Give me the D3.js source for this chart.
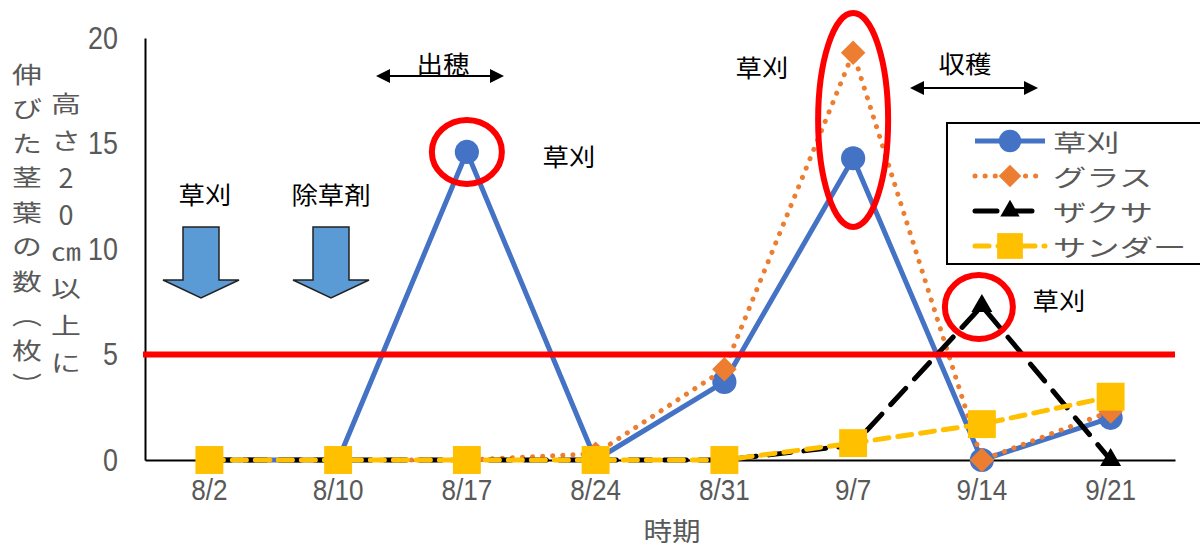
<!DOCTYPE html>
<html lang="ja">
<head>
<meta charset="utf-8">
<title>草刈と伸びた茎葉の数</title>
<script src="https://cdn.jsdelivr.net/npm/d3@7"></script>
<style>
body { margin: 0; background: #fff; }
text { font-family: "Noto Sans CJK JP", "Noto Sans", sans-serif; }
.tick text { font-family: "Liberation Sans", Arial, sans-serif; fill: #595959; }
</style>
</head>
<body>
<script>
// data
var categories = ["8/2", "8/10", "8/17", "8/24", "8/31", "9/7", "9/14", "9/21"];
var kusakari = [0, 0, 14.6, 0, 3.7, 14.3, 0, 2.0];
var grass    = [0, 0, 0, 0.3, 4.3, 19.3, 0, 2.3];
var zakusa   = [0, 0, 0, 0, 0, 0.7, 7.3, 0];
var sander   = [0, 0, 0, 0, 0, 0.8, 1.7, 3.0];
var seriesNames = ["草刈", "グラス", "ザクサ", "サンダー"];
var yTicks = [0, 5, 10, 15, 20];
var limitValue = 5;
var yTitle1 = ["伸", "び", "た", "茎", "葉", "の", "数", "︵", "枚", "︶"];
var yTitle2 = ["高", "さ", "2", "0", "㎝", "以", "上", "に"];

var w = 1200, h = 549;
var svg = d3.select("body").append("svg")
  .attr("width", w).attr("height", h);

var x = d3.scalePoint().domain(categories).range([145, 1175]).padding(0.5);
var y = d3.scaleLinear().domain([0, 20]).range([460, 38]);

// stretched text helper (the source chart text is a bit wide)
function stext(g, tx, ty, str, size, sx, fill, anchor) {
  return g.append("text")
    .attr("transform", "translate(" + tx + "," + ty + ") scale(" + sx + ",1)")
    .attr("text-anchor", anchor || "middle")
    .attr("dominant-baseline", "central")
    .style("font-size", size + "px")
    .style("fill", fill)
    .text(str);
}

// axes
var yAxis = svg.append("g").attr("transform", "translate(145,0)")
  .call(d3.axisLeft(y).tickValues(yTicks).tickSize(0));
yAxis.select(".domain").attr("stroke", "#000").attr("stroke-width", 2);
yAxis.selectAll(".tick text")
  .attr("x", -27 / 0.84)
  .attr("transform", "scale(0.84,1)")
  .style("font-size", "32px");

var xAxis = svg.append("g").attr("transform", "translate(0,460)")
  .call(d3.axisBottom(x).tickSize(0).tickPadding(19));
xAxis.select(".domain").attr("stroke", "#000").attr("stroke-width", 2);
xAxis.selectAll(".tick text")
  .attr("transform", "scale(0.9,1)")
  .style("font-size", "29px");
xAxis.selectAll(".tick").attr("transform", function(d) { return "translate(" + x(d) + ",0)"; });

stext(svg, 672, 530, "時期", 26, 1.1, "#595959");

yTitle1.forEach(function(c, i) { stext(svg, 27, 73 + i * 34.5, c, 23, 1.3, "#595959"); });
yTitle2.forEach(function(c, i) {
  var narrow = (c === "2" || c === "0");
  stext(svg, 66, 102 + i * 37, c, narrow ? 27 : 23, narrow ? 1.0 : 1.3, "#595959");
});

// series
var diamond = {
  draw: function(ctx, size) {
    var r = Math.sqrt(size / 2);
    ctx.moveTo(0, -r); ctx.lineTo(r, 0); ctx.lineTo(0, r); ctx.lineTo(-r, 0); ctx.closePath();
  }
};
var series = [
  {name: seriesNames[0], vals: kusakari, color: "#4472C4", dash: null, cap: "butt", sym: d3.symbolCircle, size: 460},
  {name: seriesNames[1], vals: grass, color: "#ED7D31", dash: "0.1 10", cap: "round", sym: diamond, size: 300},
  {name: seriesNames[2], vals: zakusa, color: "#000000", dash: "22 13", cap: "round", sym: d3.symbolTriangle, size: 190},
  {name: seriesNames[3], vals: sander, color: "#FFC000", dash: "14 9", cap: "round", sym: d3.symbolSquare, size: 780}
];

var line = d3.line()
  .x(function(d, i) { return x(categories[i]); })
  .y(function(d) { return y(d); });

series.forEach(function(s) {
  var g = svg.append("g");
  g.append("path")
    .attr("d", line(s.vals))
    .attr("fill", "none")
    .attr("stroke", s.color)
    .attr("stroke-width", 5)
    .attr("stroke-linecap", s.cap)
    .attr("stroke-linejoin", "round")
    .attr("stroke-dasharray", s.dash);
  g.selectAll("path.pt").data(s.vals).enter().append("path")
    .attr("class", "pt")
    .attr("transform", function(d, i) { return "translate(" + x(categories[i]) + "," + y(d) + ")"; })
    .attr("d", d3.symbol().type(s.sym).size(s.size))
    .attr("fill", s.color);
});

// red threshold line
svg.append("line")
  .attr("x1", 143).attr("x2", 1175)
  .attr("y1", y(limitValue)).attr("y2", y(limitValue))
  .attr("stroke", "#FF0000").attr("stroke-width", 6);

// red rings
function ring(cx, cy, rx, ry) {
  svg.append("ellipse").attr("cx", cx).attr("cy", cy).attr("rx", rx).attr("ry", ry)
    .attr("fill", "none").attr("stroke", "#FF0000").attr("stroke-width", 6);
}
ring(x("8/17"), y(kusakari[2]), 35, 32);
ring(x("9/7"), 120, 35, 107);
ring(x("9/14") - 3, 307, 34, 32);

// annotations
stext(svg, 205, 194, "草刈", 24, 1.1, "#000");
stext(svg, 331, 194, "除草剤", 24, 1.1, "#000");
stext(svg, 569, 156, "草刈", 24, 1.1, "#000");
stext(svg, 762, 67, "草刈", 24, 1.1, "#000");
stext(svg, 1059, 300, "草刈", 24, 1.1, "#000");
stext(svg, 443, 63, "出穂", 24, 1.1, "#000");
stext(svg, 965, 63, "収穫", 24, 1.1, "#000");

// down block arrows
function blockArrow(tx, ty) {
  var p = [[tx - 18, ty - 71], [tx + 18, ty - 71], [tx + 18, ty - 18], [tx + 38, ty - 18],
           [tx, ty], [tx - 38, ty - 18], [tx - 18, ty - 18]];
  svg.append("path").attr("d", "M" + p.join("L") + "Z")
    .attr("fill", "#5B9BD5").attr("stroke", "#222").attr("stroke-width", 1.5);
}
blockArrow(201, 298);
blockArrow(331, 298);

// double headed arrows
function dblArrow(x1, x2, yy) {
  svg.append("line").attr("x1", x1 + 10).attr("x2", x2 - 10).attr("y1", yy).attr("y2", yy)
    .attr("stroke", "#000").attr("stroke-width", 2);
  svg.append("path").attr("d", "M" + x1 + "," + yy + "L" + (x1 + 14) + "," + (yy - 7) + "L" + (x1 + 14) + "," + (yy + 7) + "Z");
  svg.append("path").attr("d", "M" + x2 + "," + yy + "L" + (x2 - 14) + "," + (yy - 7) + "L" + (x2 - 14) + "," + (yy + 7) + "Z");
}
dblArrow(376, 504, 76);
dblArrow(910, 1038, 88);

// legend
var lg = svg.append("g");
lg.append("rect").attr("x", 947).attr("y", 123).attr("width", 270).attr("height", 141)
  .attr("fill", "#fff").attr("stroke", "#000").attr("stroke-width", 2);
series.forEach(function(s, i) {
  var ly = 141 + i * 35;
  lg.append("line").attr("x1", 975).attr("x2", 1045).attr("y1", ly).attr("y2", ly)
    .attr("stroke", s.color).attr("stroke-width", 5)
    .attr("stroke-linecap", s.cap).attr("stroke-dasharray", s.dash);
  lg.append("path").attr("transform", "translate(1010," + ly + ")")
    .attr("d", d3.symbol().type(s.sym).size(s.size * 0.85))
    .attr("fill", s.color);
  stext(lg, 1053, ly, s.name, 23, 1.45, "#595959", "start");
});
</script>
</body>
</html>
